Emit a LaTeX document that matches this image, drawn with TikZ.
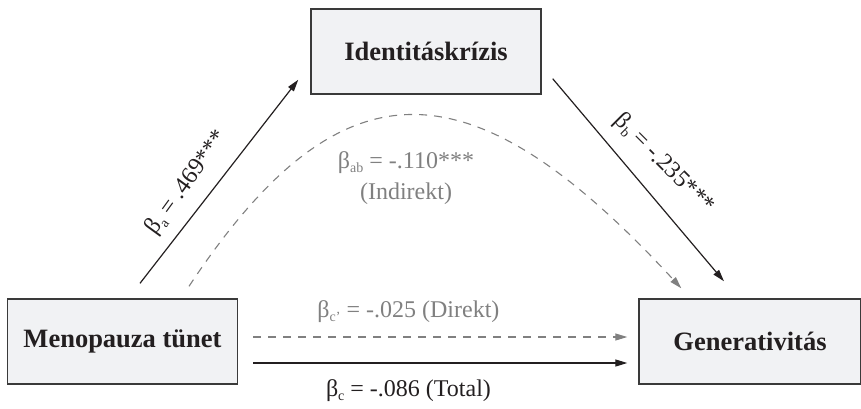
\documentclass[tikz,border=0pt]{standalone}
\usepackage{fontspec}
\setmainfont{Liberation Serif}
\usepackage{tikz}
\usetikzlibrary{
	positioning,
	arrows.meta
}

\definecolor{boxfill}{HTML}{F1F2F4}
\definecolor{boxline}{HTML}{3A3A3A}
\definecolor{ink}{HTML}{231F20}
\definecolor{soft}{HTML}{808080}

\newcommand{\bsub}[1]{\raisebox{-0.35ex}{\fontsize{14}{14}\selectfont #1}}

\begin{document}
\begin{tikzpicture}[x=1pt,y=-1pt,
		var/.style={draw=boxline,line width=1.4pt,fill=boxfill,minimum width=230pt,minimum height=85pt,inner sep=0pt,font=\fontsize{26.5}{30}\selectfont\bfseries,text=ink},
		effect/.style={draw=ink,line width=1.2pt,-{Triangle[length=12pt,width=7pt]}},
		deffect/.style={draw=soft,line width=1.1pt,dash pattern=on 8pt off 7pt,-{Triangle[length=12pt,width=7pt]}},
		lab/.style={font=\fontsize{24}{31}\selectfont,text=ink,inner sep=1pt},
		dlab/.style={lab,text=soft}
	]
	\useasboundingbox (0,0) rectangle (861,408);

	\node[var] (M) at (122.5,341.5) {Menopauza tünet};
	\node[var] (I) at (426,51.5) {Identitáskrízis};
	\node[var,minimum width=222pt] (G) at (750,341.5) {Generativitás};

	\coordinate (a0) at ([shift={(17.5,-15)}]M.north);
	\coordinate (a1) at ([shift={(-12,-15)}]I.south west);
	\coordinate (b0) at ([shift={(11,-16)}]I.south east);
	\coordinate (b1) at ([shift={(-26,-17)}]G.north);
	\coordinate (ab0) at ([shift={(66.5,-12)}]M.north);
	\coordinate (ab1) at ([shift={(43,-10)}]G.north west);

	\draw[effect] (a0) -- (a1);
	\draw[effect] (b0) -- (b1);
	\draw[deffect] (ab0) .. controls +(151,-228) and +(-212,-230) .. (ab1);
	\draw[deffect] ([shift={(15,-4.5)}]M.east) -- node[dlab,pos=0.415,above=13pt] (c1) {β\bsub{c’} = -.025 (Direkt)} ([shift={(-11,-4.5)}]G.west);
	\draw[effect] ([shift={(15,21.5)}]M.east) -- node[lab,pos=0.415,below=15pt] (c0) {β\bsub{c} = -.086 (Total)} ([shift={(-11,21.5)}]G.west);

	\node[lab,rotate=54] (la) at (187,183) {β\bsub{a} = .469***};
	\node[lab,rotate=-45] (lb) at (664,164) {β\bsub{b} = -.235***};
	\node[dlab,align=center] (lab) at (406,178) {β\bsub{ab} = -.110***\\(Indirekt)};
\end{tikzpicture}
\end{document}
